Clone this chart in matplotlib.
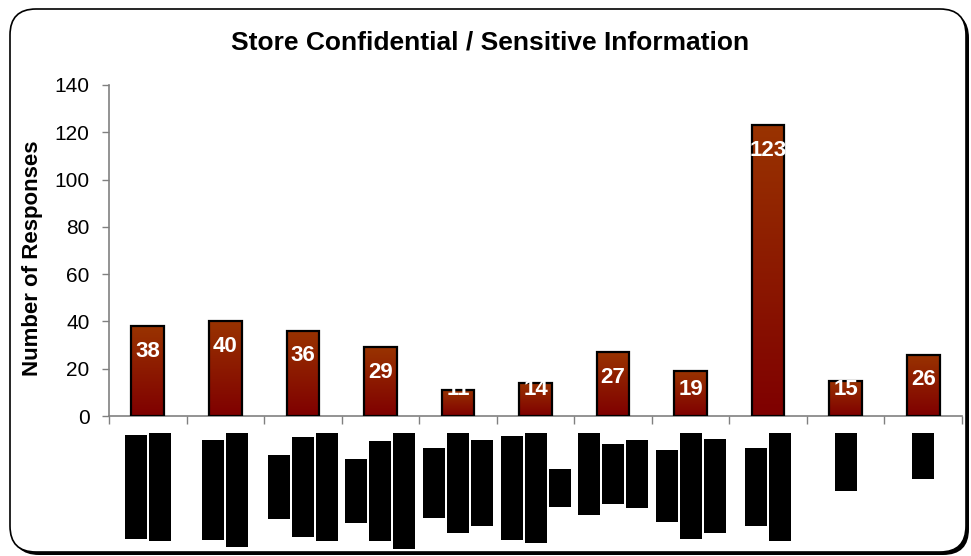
import numpy as np
import matplotlib
matplotlib.use("Agg")
import matplotlib.pyplot as plt
from matplotlib.patches import Rectangle, FancyBboxPatch
from matplotlib.transforms import IdentityTransform
from matplotlib.colors import LinearSegmentedColormap

plt.rcParams['font.family'] = ['Liberation Sans', 'DejaVu Sans']

# Responses per category (category names are redacted)
values = [38, 40, 36, 29, 11, 14, 27, 19, 123, 15, 26]
# Lengths (px) of the redacted label lines under each category
redacted_lines = [
    [104, 108],
    [100, 114],
    [64, 100, 108],
    [64, 100, 116],
    [70, 100, 86],
    [104, 110, 38],
    [82, 60, 68],
    [72, 106, 94],
    [78, 108],
    [58],
    [46],
]
yticks = [0, 20, 40, 60, 80, 100, 120, 140]

W, H = 971, 556
fig = plt.figure(figsize=(W / 100, H / 100), dpi=100)
fig.patch.set_facecolor('white')

# Rounded chart-area frame with a drop shadow
shadow = FancyBboxPatch((13, 1), 956, 543, boxstyle="round,pad=0,rounding_size=26",
                        transform=IdentityTransform(), facecolor='black',
                        edgecolor='black', lw=0, zorder=0)
frame = FancyBboxPatch((10, 4), 956, 543, boxstyle="round,pad=0,rounding_size=26",
                       transform=IdentityTransform(), facecolor='white',
                       edgecolor='black', lw=1.2, zorder=0.5)
fig.add_artist(shadow)
fig.add_artist(frame)

ax = fig.add_axes([109 / W, 140 / H, (962 - 109) / W, (471 - 140) / H])
ax.set_facecolor('none')
ax.set_zorder(2)

n = len(values)
x = np.arange(n)
bw = 0.42
grad = LinearSegmentedColormap.from_list('brick', ['#7f0000', '#993300'])
g = np.linspace(0, 1, 256).reshape(-1, 1)
for xi, v in zip(x, values):
    ax.imshow(g, cmap=grad, origin='lower', aspect='auto',
              extent=[xi - bw / 2, xi + bw / 2, 0, v], zorder=2)
    ax.bar(xi, v, width=bw, fill=False, edgecolor='black', linewidth=1.6, zorder=3)
    ly = max(v - 10.6, 11.2)
    ax.text(xi, ly, str(v), ha='center', va='center', color='white',
            fontsize=16, fontweight='bold', zorder=4)

ax.set_xlim(-0.5, n - 0.5)
ax.set_ylim(0, 140)
ax.set_yticks(yticks)
ax.set_yticklabels([str(t) for t in yticks], fontsize=15)
ax.set_xticks(np.arange(n + 1) - 0.5)
ax.set_xticklabels([])
ax.tick_params(axis='y', direction='out', length=5, width=1, color='#808080', pad=9)
ax.tick_params(axis='x', direction='out', length=6, width=1, color='#808080')
for s in ['top', 'right']:
    ax.spines[s].set_visible(False)
for s in ['left', 'bottom']:
    ax.spines[s].set_color('#808080')
    ax.spines[s].set_linewidth(1.2)

ax.set_ylabel('Number of Responses', fontsize=16, fontweight='bold',
              va='center', ha='center')
ax.yaxis.set_label_coords(-0.090, 0.477)
fig.text(490 / W, 1 - 42 / H, 'Store Confidential / Sensitive Information',
         ha='center', va='center', fontsize=19, fontweight='bold')

# Redaction blocks over the category labels
fig.canvas.draw()
axis_y = ax.transData.transform((0, 0))[1]
for i, lines in enumerate(redacted_lines):
    cx = ax.transData.transform((i, 0))[0]
    top_gap = 17
    longest = max(lines)
    cy = axis_y - top_gap - longest / 2
    k = len(lines)
    for j, L in enumerate(lines):
        lx = cx + (j - (k - 1) / 2) * 24
        fig.add_artist(Rectangle((lx - 11, cy - L / 2), 22, L, transform=IdentityTransform(),
                                 facecolor='black', edgecolor='none', zorder=5))

fig.savefig('out.png', dpi=100)
